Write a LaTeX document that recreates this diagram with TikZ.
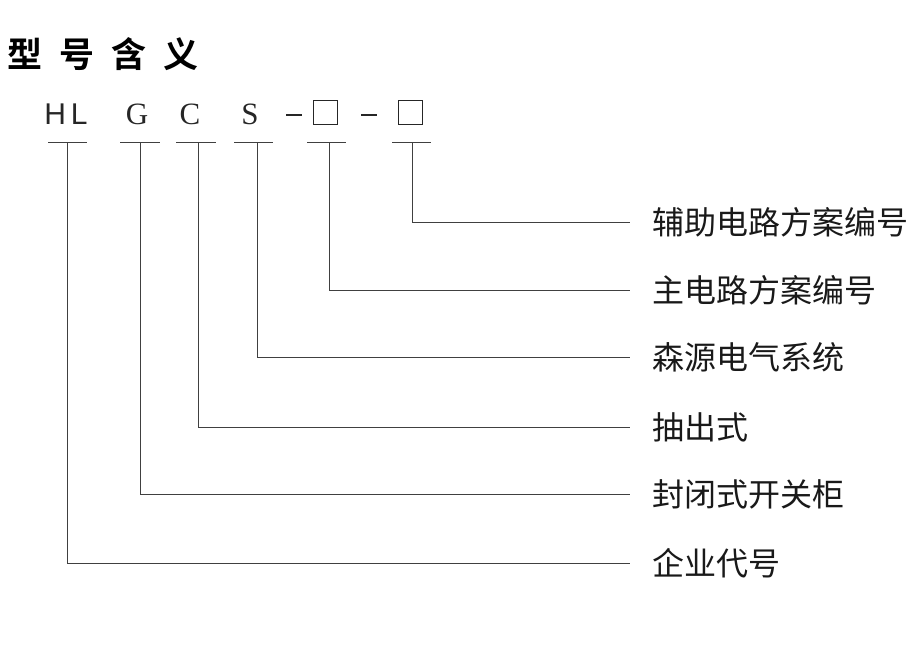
\documentclass[tikz,border=0pt]{standalone}
\usepackage{fontspec}
\usepackage{tikz}
\usetikzlibrary{positioning}
\newfontfamily\cjk{Noto Sans CJK SC}[BoldFont={Noto Sans CJK SC Bold}]
\newfontfamily\codesans{Liberation Sans}
\newfontfamily\codeserif{Liberation Serif}
\tikzset{
    %Define style for code letters
    code/.style={
           inner sep=0pt,
           font=\fontsize{31}{31}\selectfont\codeserif,
           text=black!85},
    %Define style for the empty boxes
    blank/.style={
           rectangle,
           draw=black!85, line width=1.6pt,
           minimum width=24pt,
           minimum height=24pt,
           inner sep=0pt},
    %Define style for the dashes
    dashbar/.style={
           rectangle,
           fill=black!85,
           minimum width=16pt,
           minimum height=2.6pt,
           inner sep=0pt},
    %Define style for the meanings
    meaning/.style={
           anchor=west,
           inner sep=0pt,
           font=\fontsize{32}{32}\selectfont\cjk,
           text=black!90},
    % Define line style
    lead/.style={
           draw=black!75,
           line width=1pt},
}
\begin{document}
\begin{tikzpicture}[x=1pt,y=-1pt]
\useasboundingbox (0,0) rectangle (920,647);
\node[anchor=west,inner sep=0pt,font=\fontsize{35}{35}\selectfont\cjk\bfseries](title) at (7,54)
    {型\hspace{17pt}号\hspace{17pt}含\hspace{17pt}义};
% code line
\node[code,font=\fontsize{30}{30}\selectfont\codesans](hl) at (66,114){H\,L};
\node[code](g) at (137,114){G};
\node[code](c) at (190,114){C};
\node[code](s) at (250,114){S};
\node[dashbar](d1) at (293.5,115){};
\node[blank](b1) at (325.5,112.5){};
\node[dashbar](d2) at (368.5,115){};
\node[blank](b2) at (410.5,112.5){};
% bars under the code
\coordinate (hlbar) at (67,143);
\coordinate (gbar) at (140,143);
\coordinate (cbar) at (198,143);
\coordinate (sbar) at (257,143);
\coordinate (b1bar) at (329,143);
\coordinate (b2bar) at (412,143);
\foreach \p/\l/\r in {hlbar/19/20, gbar/20/20, cbar/22/18, sbar/23/16, b1bar/22/17, b2bar/20/19}
    \draw[lead] ([xshift=-\l]\p) -- ([xshift=\r]\p);
% meanings
\node[meaning](m6) at (652,222){辅助电路方案编号};
\node[meaning](m5) at (652,290){主电路方案编号};
\node[meaning](m4) at (652,357){森源电气系统};
\node[meaning](m3) at (652,427){抽出式};
\node[meaning](m2) at (652,494){封闭式开关柜};
\node[meaning](m1) at (652,563){企业代号};
\path[lead]
    (b2bar) |- ([xshift=-22]m6.west)
    (b1bar) |- ([xshift=-22]m5.west)
    (sbar) |- ([xshift=-22]m4.west)
    (cbar) |- ([xshift=-22]m3.west)
    (gbar) |- ([xshift=-22]m2.west)
    (hlbar) |- ([xshift=-22]m1.west);
\end{tikzpicture}
\end{document}
